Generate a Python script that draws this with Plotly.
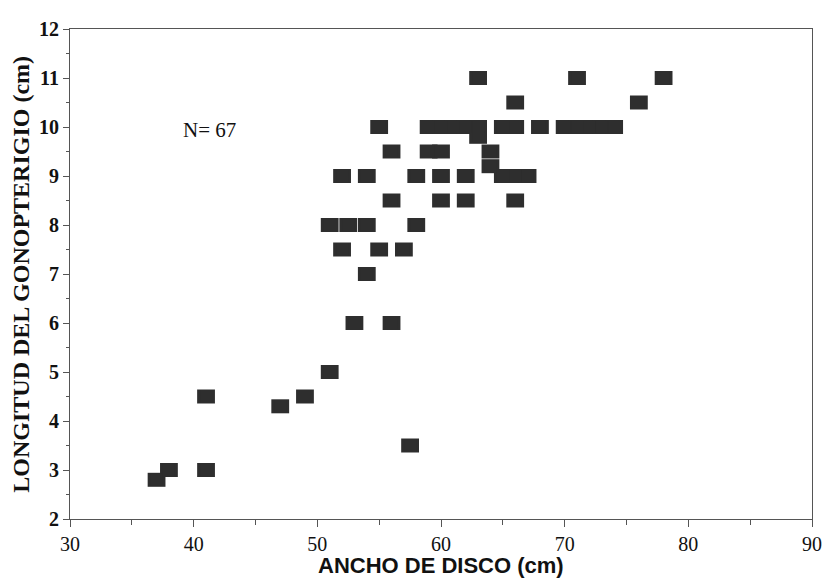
import plotly.graph_objects as go

# ANCHO DE DISCO (cm)
ancho = [37, 38, 41, 41, 47, 49, 51, 57.5, 53, 56, 54, 52, 55, 57,
         51, 52.5, 54, 58,
         56, 60, 62, 66,
         52, 54, 58, 60, 62, 65, 66, 67,
         64, 64,
         56, 59, 60,
         55, 59, 60, 61, 62, 63, 63, 65, 66, 68, 70, 71, 72, 73, 74,
         76, 66, 63, 71, 78]
# LONGITUD DEL GONOPTERIGIO (cm)
longitud = [2.8, 3, 3, 4.5, 4.3, 4.5, 5, 3.5, 6, 6, 7, 7.5, 7.5, 7.5,
            8, 8, 8, 8,
            8.5, 8.5, 8.5, 8.5,
            9, 9, 9, 9, 9, 9, 9, 9,
            9.2, 9.5,
            9.5, 9.5, 9.5,
            10, 10, 10, 10, 10, 10, 9.8, 10, 10, 10, 10, 10, 10, 10, 10,
            10.5, 10.5, 11, 11, 11]

x_ticks = [30, 40, 50, 60, 70, 80, 90]
y_ticks = [2, 3, 4, 5, 6, 7, 8, 9, 10, 11, 12]

mark_color = "#2e2e2e"
serif = "Liberation Serif, Times New Roman, serif"

fig = go.Figure()
fig.add_trace(go.Scatter(
    x=ancho, y=longitud, mode="markers",
    marker=dict(symbol="square", size=12, color=mark_color, line=dict(width=0)),
    error_x=dict(type="constant", value=0.72, thickness=14, width=0, color=mark_color),
    showlegend=False,
))

fig.add_annotation(x=41.3, y=9.93, text="N= 67", showarrow=False,
                   font=dict(family=serif, size=21, color="#111"))

# axis titles as annotations for precise placement
fig.add_annotation(xref="paper", yref="paper", x=0.5, y=-0.094, yanchor="middle",
                   text="<b>ANCHO DE DISCO (cm)</b>", showarrow=False,
                   font=dict(family="Liberation Sans Narrow, Liberation Sans, Arial, sans-serif", size=22, color="#111"))
fig.add_annotation(xref="paper", yref="paper", x=-0.0665, y=0.50, xanchor="center", yanchor="middle",
                   textangle=-90, text="<b>LONGITUD DEL GONOPTERIGIO (cm)</b>", showarrow=False,
                   font=dict(family=serif, size=24, color="#111"))

fig.update_layout(
    width=824, height=572,
    margin=dict(l=62, r=10, t=12, b=61),
    plot_bgcolor="white", paper_bgcolor="white",
    xaxis=dict(
        range=[30, 90], tickvals=x_ticks, ticktext=[str(v) for v in x_ticks],
        showgrid=False, zeroline=False,
        showline=True, linecolor="#555", linewidth=1, mirror=True,
        ticks="outside", ticklen=7, tickcolor="#555",
        minor=dict(tickvals=[35, 45, 55, 65, 75, 85], ticks="outside", ticklen=5, tickcolor="#555"),
        tickfont=dict(family=serif, size=20, color="#111"),
    ),
    yaxis=dict(
        range=[2, 12], tickvals=y_ticks, ticktext=[str(v) for v in y_ticks],
        showgrid=False, zeroline=False,
        showline=True, linecolor="#555", linewidth=1, mirror=True,
        ticks="outside", ticklen=6, tickcolor="#555",
        minor=dict(tickvals=[v + 0.5 for v in y_ticks[:-1]], ticks="outside", ticklen=3, tickcolor="#555"),
        tickfont=dict(family=serif, size=20, color="#111", weight="bold"),
    ),
)

fig.write_html("out.html")
